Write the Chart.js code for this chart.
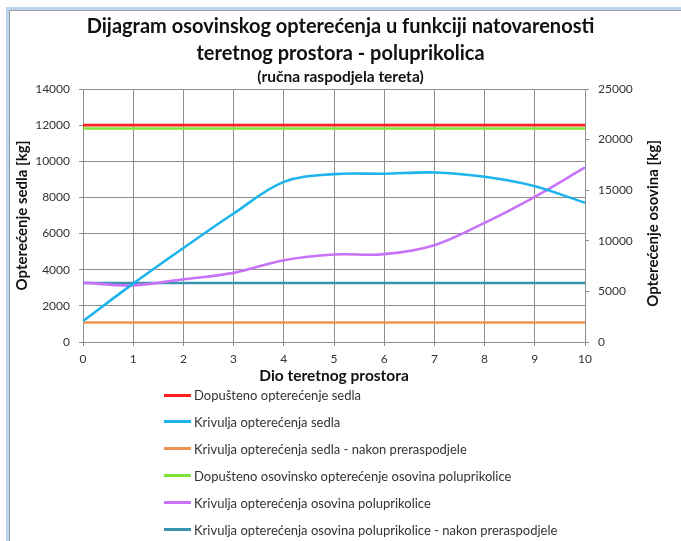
<!DOCTYPE html>
<html>
<head>
<meta charset="utf-8">
<script src="https://cdn.jsdelivr.net/npm/chart.js@4.4.0/dist/chart.umd.min.js"></script>
<style>
  html, body { margin: 0; padding: 0; background: #fff; }
  #wrap { position: relative; width: 681px; height: 541px; overflow: hidden; }
  #frameOuter { position: absolute; left: 6px; top: 7px; width: 700px; height: 560px;
    border-left: 3px solid #bcd4ee; border-top: 3px solid #bcd4ee; }
  #frameInner { position: absolute; left: 0; top: 0; width: 100%; height: 100%;
    border-left: 1px solid #9c9c9c; border-top: 1px solid #9c9c9c; }
  canvas { position: absolute; left: 0; top: 0; }
  #legend { position: absolute; left: 0; top: 0; width: 681px; height: 541px; pointer-events: none;
    font-family: Lato, sans-serif; font-size: 13px; color: #333; }
  .lg-row { position: absolute; left: 164px; height: 16px; display: flex; align-items: center; white-space: nowrap; }
  .lg-line { width: 27px; height: 3px; margin-right: 3px; }
</style>
</head>
<body>
<div id="wrap">
  <div id="frameOuter"><div id="frameInner"></div></div>
  <canvas id="c" width="681" height="541"></canvas>
  <div id="legend"></div>
</div>
<script>
// ---- data ----
const categories = ['0','1','2','3','4','5','6','7','8','9','10'];
const dopustenoSedlo = [12000,12000,12000,12000,12000,12000,12000,12000,12000,12000,12000];
const krivuljaSedlo = [1160,3230,5200,7110,8860,9290,9310,9380,9140,8620,7700];
const sedloNakon = [1080,1080,1080,1080,1080,1080,1080,1080,1080,1080,1080];
const dopustenoOsovina = [21100,21100,21100,21100,21100,21100,21100,21100,21100,21100,21100];
const krivuljaOsovina = [5870,5600,6200,6830,8080,8650,8680,9570,11770,14340,17250];
const osovinaNakon = [5830,5830,5830,5830,5830,5830,5830,5830,5830,5830,5830];

const leftTicks = [0,2000,4000,6000,8000,10000,12000,14000];
const rightTicks = [0,5000,10000,15000,20000,25000];

const seriesLabels = [
  'Dopušteno opterećenje sedla',
  'Krivulja opterećenja sedla',
  'Krivulja opterećenja sedla - nakon preraspodjele',
  'Dopušteno osovinsko opterećenje osovina poluprikolice',
  'Krivulja opterećenja osovina poluprikolice',
  'Krivulja opterećenja osovina poluprikolice - nakon preraspodjele'
];
const seriesColors = ['#ff1f1f','#1db4ec','#ee9350','#7ee23a','#c873f7','#3a93ad'];

const rightAxisTitle = 'Opterećenje osovina [kg]';

const FONT = 'Lato, sans-serif';
const GRID = '#8f8f8f';

function ds(i, data, axis, smooth) {
  return { label: seriesLabels[i], data: data, yAxisID: axis,
    borderColor: seriesColors[i], backgroundColor: seriesColors[i],
    borderWidth: 2.6, pointRadius: 0, tension: smooth ? 0.35 : 0, fill: false };
}

// right axis title reads bottom-to-top, like the left one
const rightTitlePlugin = {
  id: 'rightTitle',
  afterDraw: function (ch) {
    const s = ch.scales.y2;
    const ctx = ch.ctx;
    ctx.save();
    ctx.translate(s.right - 28, (s.top + s.bottom) / 2 + 8);
    ctx.rotate(-Math.PI / 2);
    ctx.font = 'bold 15px ' + FONT;
    ctx.fillStyle = '#111';
    ctx.textAlign = 'center';
    ctx.textBaseline = 'middle';
    ctx.fillText(rightAxisTitle, 0, 0);
    ctx.restore();
  }
};

const plainTick = function (v) { return String(v); };

const chart = new Chart(document.getElementById('c'), {
  type: 'line',
  data: {
    labels: categories,
    datasets: [
      ds(0, dopustenoSedlo, 'y', false),
      ds(1, krivuljaSedlo, 'y', true),
      ds(2, sedloNakon, 'y', false),
      ds(3, dopustenoOsovina, 'y2', false),
      ds(4, krivuljaOsovina, 'y2', true),
      ds(5, osovinaNakon, 'y2', false)
    ]
  },
  plugins: [rightTitlePlugin],
  options: {
    responsive: false,
    animation: false,
    devicePixelRatio: 1,
    layout: { padding: { top: 0, left: 0, right: 0, bottom: 155 } },
    plugins: {
      legend: { display: false },
      tooltip: { enabled: false },
      title: {
        display: true,
        text: ['Dijagram osovinskog opterećenja u funkciji natovarenosti', 'teretnog prostora - poluprikolica'],
        color: '#111',
        font: { family: FONT, size: 20, weight: 'bold', lineHeight: 1.35 },
        padding: { top: 13.5, bottom: 0 }
      },
      subtitle: {
        display: true,
        text: '(ručna raspodjela tereta)',
        color: '#111',
        font: { family: FONT, size: 15.5, weight: 'bold', lineHeight: 1.2 },
        padding: { top: 0.2, bottom: 2.7 }
      }
    },
    scales: {
      x: {
        type: 'category',
        offset: false,
        grid: { color: GRID, lineWidth: 1, tickLength: 4, drawTicks: true },
        border: { color: GRID, width: 1 },
        ticks: { color: '#333', font: { family: FONT, size: 12 }, padding: 6, maxRotation: 0, autoSkip: false },
        title: { display: true, text: 'Dio teretnog prostora', color: '#111',
          font: { family: FONT, size: 15.5, weight: 'bold', lineHeight: 1.2 }, padding: { top: 0, bottom: 1 } },
        afterFit: function (s) { s.height = 44; }
      },
      y: {
        position: 'left',
        min: 0, max: 14000,
        afterBuildTicks: function (s) { s.ticks = leftTicks.map(v => ({ value: v })); },
        grid: { color: GRID, lineWidth: 1, tickLength: 4 },
        border: { color: GRID, width: 1 },
        ticks: { color: '#333', font: { family: FONT, size: 12 }, padding: 9, callback: plainTick },
        title: { display: true, text: 'Opterećenje sedla [kg]', color: '#111',
          font: { family: FONT, size: 15, weight: 'bold', lineHeight: 1.2 }, padding: { top: 13, bottom: 0 } },
        afterFit: function (s) { s.width = 83; }
      },
      y2: {
        position: 'right',
        min: 0, max: 25000,
        afterBuildTicks: function (s) { s.ticks = rightTicks.map(v => ({ value: v })); },
        grid: { drawOnChartArea: false, color: GRID, lineWidth: 1, tickLength: 4 },
        border: { color: GRID, width: 1 },
        ticks: { color: '#333', font: { family: FONT, size: 12 }, padding: 9, callback: plainTick },
        title: { display: false, text: rightAxisTitle },
        afterFit: function (s) { s.width = 96; }
      }
    }
  }
});

// ---- legend (one entry per row, below the chart) ----
const legend = document.getElementById('legend');
chart.data.datasets.forEach(function (d, i) {
  const row = document.createElement('div');
  row.className = 'lg-row';
  row.style.top = (387 + i * 26.9) + 'px';
  const ln = document.createElement('span');
  ln.className = 'lg-line';
  ln.style.background = d.borderColor;
  const tx = document.createElement('span');
  tx.textContent = d.label;
  row.appendChild(ln); row.appendChild(tx);
  legend.appendChild(row);
});
</script>
</body>
</html>
